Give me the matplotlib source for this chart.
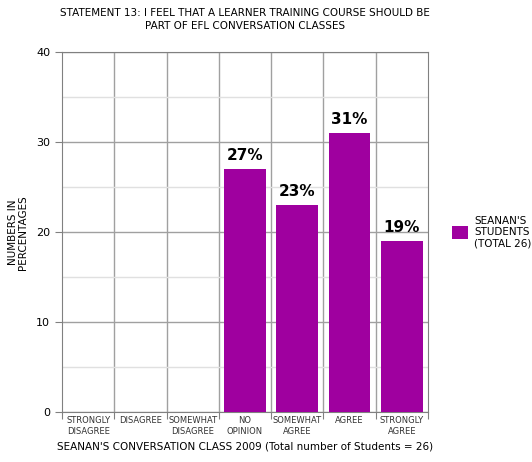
import matplotlib.pyplot as plt
import numpy as np

categories = ["STRONGLY\nDISAGREE", "DISAGREE", "SOMEWHAT\nDISAGREE", "NO\nOPINION",
              "SOMEWHAT\nAGREE", "AGREE", "STRONGLY\nAGREE"]
values = [0, 0, 0, 27, 23, 31, 19]
pct_labels = ["", "", "", "27%", "23%", "31%", "19%"]

bar_color = "#9f009f"

fig = plt.figure(figsize=(5.32, 4.62), dpi=100)
ax = fig.add_axes([0.1165, 0.108, 0.688, 0.779])

x = np.arange(len(categories))
bars = ax.bar(x, values, width=0.8, color=bar_color, zorder=3, label="SEANAN'S\nSTUDENTS\n(TOTAL 26)")

for xi, v, lab in zip(x, values, pct_labels):
    if lab:
        ax.text(xi, v + 0.7, lab, ha="center", va="bottom", fontsize=11, fontweight="bold", zorder=4)

ax.set_xlim(-0.5, len(categories) - 0.5)
ax.set_ylim(0, 40)

# gridlines: major every 10, lighter ones every 5, plus category dividers
ax.set_yticks([0, 10, 20, 30, 40])
ax.set_yticks([5, 15, 25, 35], minor=True)
ax.grid(axis="y", which="major", color="#a0a0a0", linewidth=1, zorder=0)
ax.grid(axis="y", which="minor", color="#e0e0e0", linewidth=1, zorder=0)
for b in np.arange(0.5, len(categories) - 0.5, 1):
    ax.axvline(b, color="#a0a0a0", linewidth=1, zorder=0)

ax.set_xticks(np.arange(-0.5, len(categories), 1))
ax.set_xticklabels([])
ax.set_xticks(x, minor=True)
ax.set_xticklabels(categories, minor=True, fontsize=6, color="#333333")
ax.tick_params(axis="x", which="minor", length=0, pad=3)
ax.tick_params(axis="x", which="major", length=5, color="#808080")
ax.tick_params(axis="y", which="major", length=5, color="#808080", labelsize=8)
ax.tick_params(axis="y", which="minor", length=0)

for s in ax.spines.values():
    s.set_color("#808080")

ax.set_title("STATEMENT 13: I FEEL THAT A LEARNER TRAINING COURSE SHOULD BE\nPART OF EFL CONVERSATION CLASSES",
             fontsize=7.5, pad=17, linespacing=1.3)
ax.set_xlabel("SEANAN'S CONVERSATION CLASS 2009 (Total number of Students = 26)", fontsize=7.5, labelpad=4)
ax.set_ylabel("NUMBERS IN\nPERCENTAGES", fontsize=7.5, linespacing=0.95, labelpad=6)

ax.legend(loc="center left", bbox_to_anchor=(1.04, 0.5), frameon=False, fontsize=7.5,
          handlelength=1.5, handleheight=1.6, handletextpad=0.6)

fig.savefig("out.png", dpi=100)
